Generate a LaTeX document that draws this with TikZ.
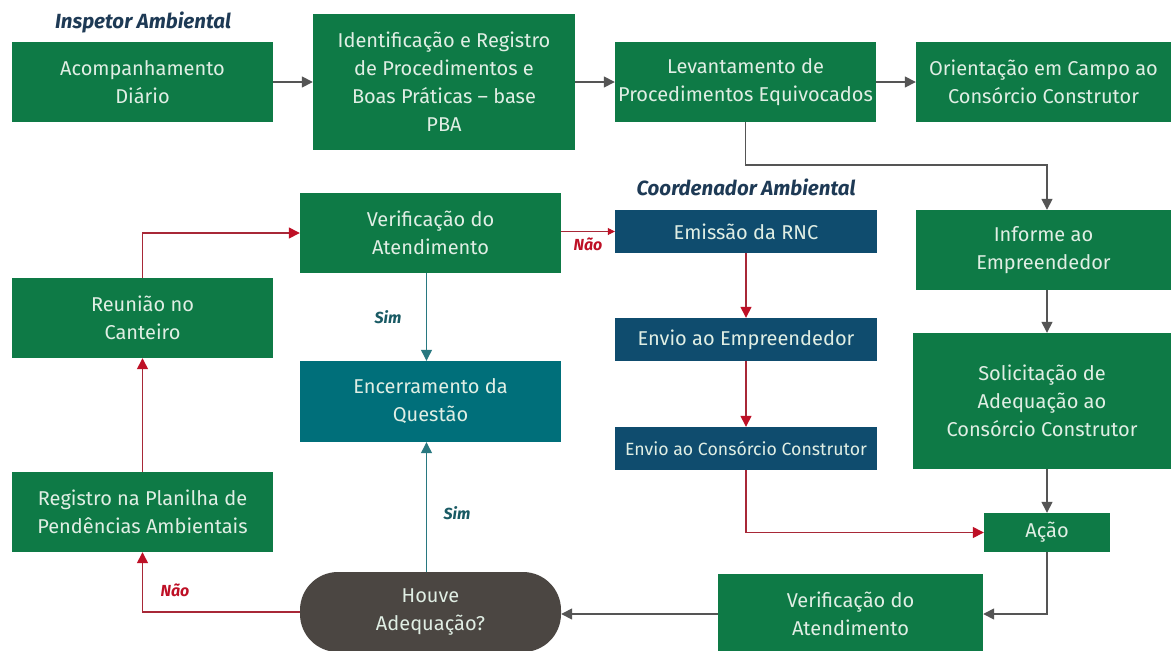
\documentclass[tikz,border=0pt]{standalone}
\usepackage{fontspec}
\setmainfont{Fira Sans}
\usetikzlibrary{arrows.meta,calc}
\definecolor{gbox}{RGB}{14,122,70}
\definecolor{nbox}{RGB}{15,76,110}
\definecolor{tbox}{RGB}{0,111,122}
\definecolor{dbox}{RGB}{75,70,66}
\definecolor{txt}{RGB}{224,238,228}
\definecolor{rline}{RGB}{168,40,55}
\definecolor{rtip}{RGB}{190,16,38}
\definecolor{gline}{RGB}{85,85,85}
\definecolor{tline}{RGB}{40,120,128}
\definecolor{title}{RGB}{30,58,85}
\definecolor{simc}{RGB}{25,90,100}
\begin{document}
\begin{tikzpicture}[x=1pt,y=-1pt,
  box/.style={fill=gbox,text=txt,align=center,inner sep=0pt,minimum width=261pt,minimum height=80pt,font=\fontsize{20}{28}\selectfont},
  nav/.style={box,fill=nbox,minimum height=43pt},
  ttl/.style={text=title,font=\fontsize{20.5}{22}\selectfont\bfseries\itshape,inner sep=0pt},
  lab/.style={font=\fontsize{16}{18}\selectfont\bfseries\itshape,inner sep=0pt},
  garrow/.style={draw=gline,line width=1.5pt,-{Triangle[length=11pt,width=11pt]}},
  rarrow/.style={draw=rline,line width=1.4pt,-{Triangle[length=11pt,width=11pt,color=rtip]}},
  tarrow/.style={draw=tline,line width=1.2pt,-{Triangle[length=11pt,width=11pt]}}
]
\useasboundingbox (0,0) rectangle (1171,651);
\fill[white] (0,0) rectangle (1171,651);

\node[ttl] (t1) at (143,22) {Inspetor Ambiental};
\node[ttl] (t2) at (746,187) {Coordenador Ambiental};

\node[box] (a1) at (142.5,82) {Acompanhamento\\Diário};
\node[box,minimum width=262pt,minimum height=136pt] (a2) at (444,82) {Identificação e Registro\\de Procedimentos e\\Boas Práticas – base\\PBA};
\node[box] (a3) at (745.5,82) {Levantamento de\\Procedimentos Equivocados};
\node[box,minimum width=255pt] (a4) at (1043.5,82) {Orientação em Campo ao\\Consórcio Construtor};

\node[box,minimum width=255pt] (b1) at (1043.5,250) {Informe ao\\Empreendedor};
\node[box,minimum width=258pt,minimum height=136pt] (b2) at (1042,401) {Solicitação de\\Adequação ao\\Consórcio Construtor};
\node[box,minimum width=126pt,minimum height=39pt] (b3) at (1047,532.5) {Ação};
\node[box,minimum width=265pt] (b4) at (850.5,614) {Verificação do\\Atendimento};

\node[box,fill=dbox,rounded corners=38pt] (h) at (430.5,612) {Houve\\Adequação?};
\node[box] (r1) at (142.5,512) {Registro na Planilha de\\Pendências Ambientais};
\node[box] (r2) at (142.5,318) {Reunião no\\Canteiro};
\node[box] (v) at (430.5,233) {Verificação do\\Atendimento};
\node[box,fill=tbox,minimum height=81pt] (e) at (430.5,401.5) {Encerramento da\\Questão};

\node[nav,minimum width=262pt] (c1) at (746,231.5) {Emissão da RNC};
\node[nav,minimum width=262pt] (c2) at (746,339.5) {Envio ao Empreendedor};
\node[nav,minimum width=262pt,font=\fontsize{17.7}{20}\selectfont] (c3) at (746,448.5) {Envio ao Consórcio Construtor};

% gray flow
\draw[garrow] (a1) -- (a2);
\draw[garrow] (a2.east|-a3.west) -- (a3);
\draw[garrow] (a3) -- (a4);
\draw[garrow] (a3.south) -- ++(0,43) -| ($(b1.north)+(3.5,0)$);
\draw[garrow] ($(b1.south)+(3.5,0)$) -- ($(b2.north)+(5,0)$);
\draw[garrow] ($(b2.south)+(5,0)$) -- (b3.north);
\draw[garrow] (b3.south) |- (b4.east);
\draw[garrow] (b4.west) -- (b4.west-|h.east);

% red flow
\draw[rarrow] (h.west) -| (r1.south);
\draw[rarrow] (r1.north) -- (r2.south);
\draw[rarrow] (r2.north) |- (v.west);
\draw[draw=rline,line width=0.8pt,-{Triangle[length=7pt,width=7pt,color=rtip]}] (v.east|-c1.west) -- (c1.west);
\draw[rarrow] (c1) -- (c2);
\draw[rarrow] (c2) -- (c3);
\draw[rarrow] (c3.south) |- (b3.west);

% teal flow
\draw[tarrow] ($(v.south)+(-4,0)$) -- ($(e.north)+(-4,0)$);
\draw[tarrow] ($(h.north)+(-4,0)$) -- ($(e.south)+(-4,0)$);

\node[lab,text=rtip] (n1) at (588,244) {Não};
\node[lab,text=rtip] (n2) at (175,590) {Não};
\node[lab,text=simc] (s1) at (388,317) {Sim};
\node[lab,text=simc] (s2) at (457,513) {Sim};
\end{tikzpicture}
\end{document}
